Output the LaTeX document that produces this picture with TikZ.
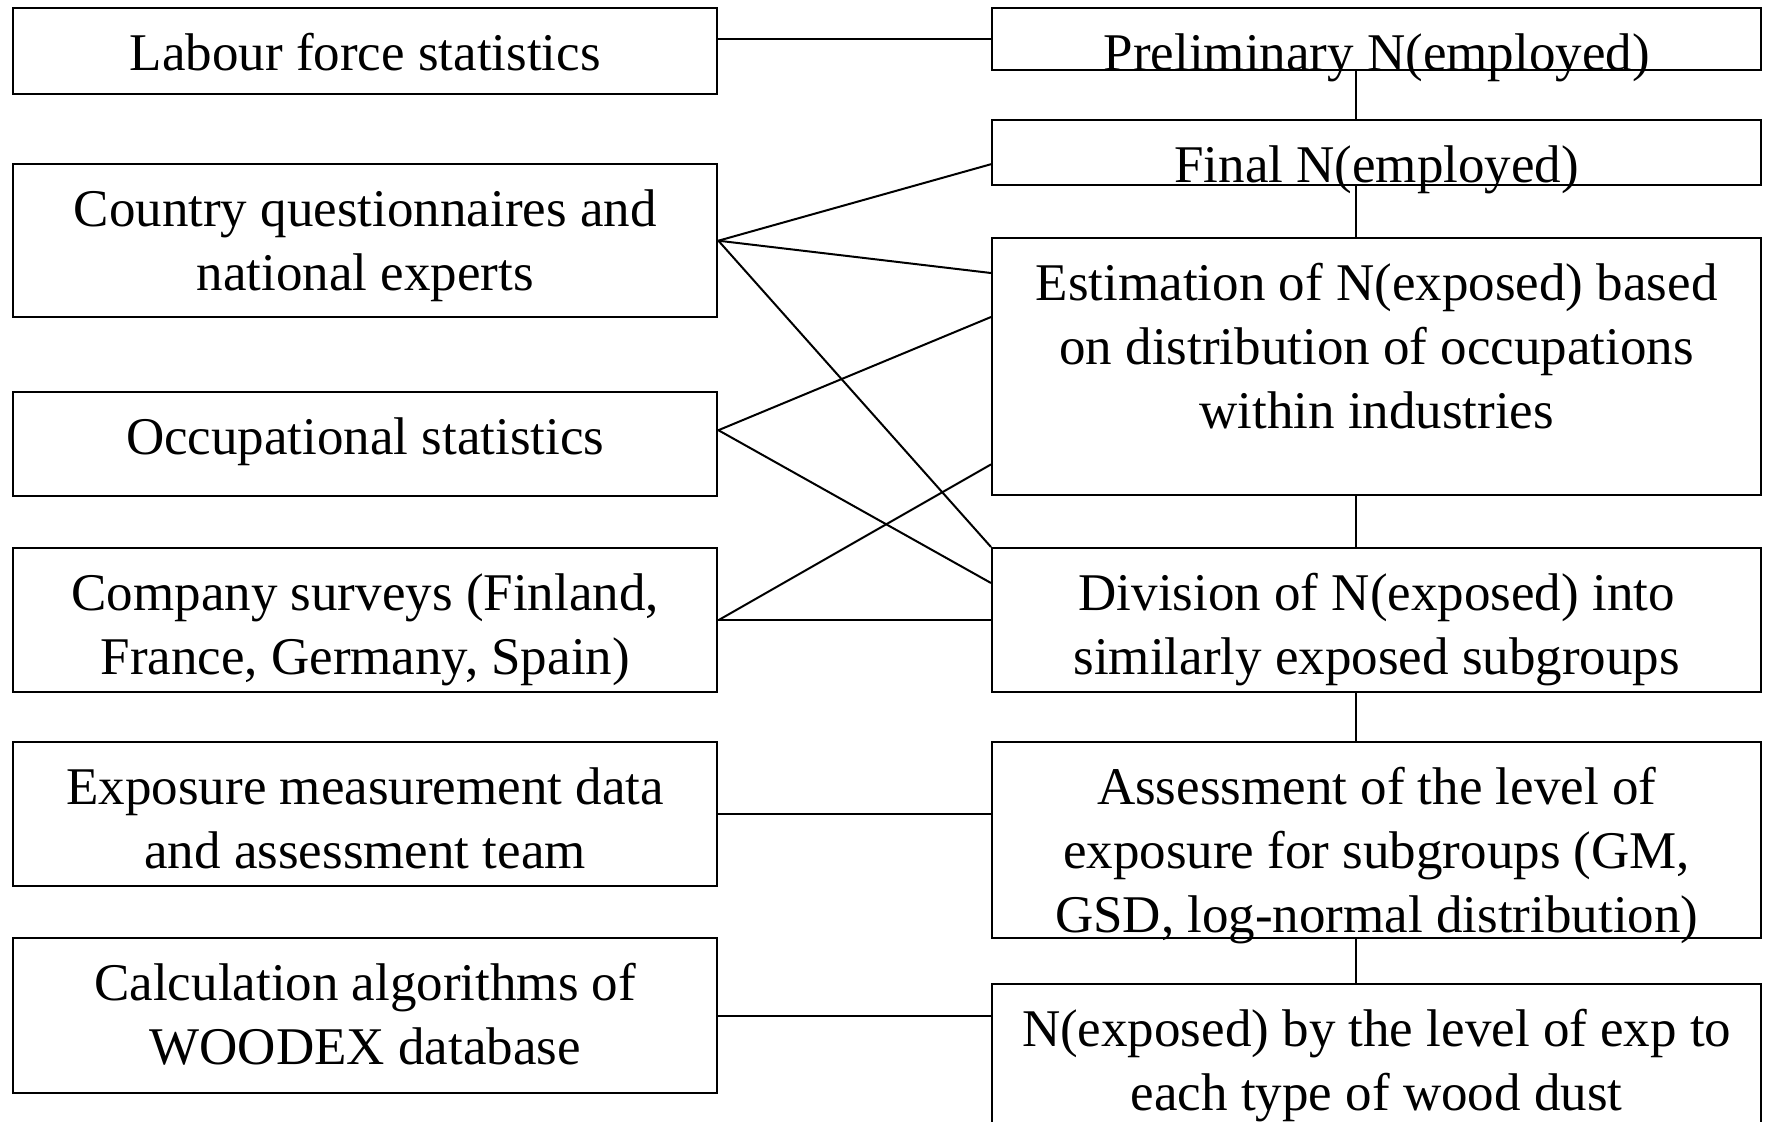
\documentclass[tikz,border=0pt]{standalone}
\usepackage{fontspec}
\setmainfont{Liberation Serif}
\usepackage{tikz}

\begin{document}
\begin{tikzpicture}[x=0.5pt,y=-0.5pt]
\tikzstyle{every node}=[font=\fontsize{26.5}{32}\selectfont]
\tikzstyle{src}=[draw, line width=1.2pt, anchor=north west, minimum width=352pt, inner ysep=0pt, text height=31pt, align=center]
\tikzstyle{stage}=[src, minimum width=384.5pt]
\tikzstyle{twoline}=[text height=63pt]
\tikzstyle{threeline}=[text height=95pt]
\tikzstyle{link}=[line width=1pt]
\clip (0,0) rectangle (1767,1121);
%\draw[step=100,color=gray] (0,0) grid (1767,1121);
% left column: data sources
\node[src, text depth=12pt] (lfs) at (12,7) {Labour force statistics};
\node[src, twoline, text depth=13.5pt] (cq) at (12,163) {Country questionnaires and\\national experts};
\node[src, text depth=21pt] (occ) at (12,391) {Occupational statistics};
\node[src, twoline, text depth=9pt] (comp) at (12,547) {Company surveys (Finland,\\France, Germany, Spain)};
\node[src, twoline, text depth=9pt] (expo) at (12,741) {Exposure measurement data\\and assessment team};
\node[src, twoline, text depth=14.5pt] (calc) at (12,937) {Calculation algorithms of\\WOODEX database};
% right column: estimation steps
\node[stage, text depth=-1pt] (prelim) at (991,7) {Preliminary N(employed)};
\node[stage, text depth=1.5pt] (final) at (991,119) {Final N(employed)};
\node[stage, threeline, text depth=33.5pt] (estim) at (991,237) {Estimation of N(exposed) based\\on distribution of occupations\\within industries};
\node[stage, twoline, text depth=9pt] (divis) at (991,547) {Division of N(exposed) into\\similarly exposed subgroups};
\node[stage, threeline, text depth=3pt] (assess) at (991,741) {Assessment of the level of\\exposure for subgroups (GM,\\GSD, log-normal distribution)};
\node[stage, twoline, text depth=37pt] (nexp) at (991,983) {N(exposed) by the level of exp to\\each type of wood dust};
% chain of steps
\coordinate (spine) at (1356,0);
\foreach \a/\b in {prelim/final,final/estim,estim/divis,divis/assess,assess/nexp}
  \draw[link] (\a.south -| spine) -- (\b.north -| spine);
% sources feeding the steps
\draw[link] (prelim.west -| lfs.east) -- (prelim.west);
\draw[link] (cq.east) -- ([yshift=-5.75pt]final.west);
\draw[link] (cq.east) -- ([yshift=-18pt]estim.north west);
\draw[link] (cq.east) -- (divis.north west);
\draw[link] ([yshift=7pt]occ.east) -- ([yshift=-40pt]estim.north west);
\draw[link] ([yshift=7pt]occ.east) -- ([yshift=-18pt]divis.north west);
\draw[link] (comp.east) -- ([yshift=16pt]estim.south west);
\draw[link] (comp.east) -- (comp.east -| divis.west);
\draw[link] (expo.east) -- (expo.east -| assess.west);
\draw[link] (calc.east) -- (calc.east -| nexp.west);
\end{tikzpicture}
\end{document}
